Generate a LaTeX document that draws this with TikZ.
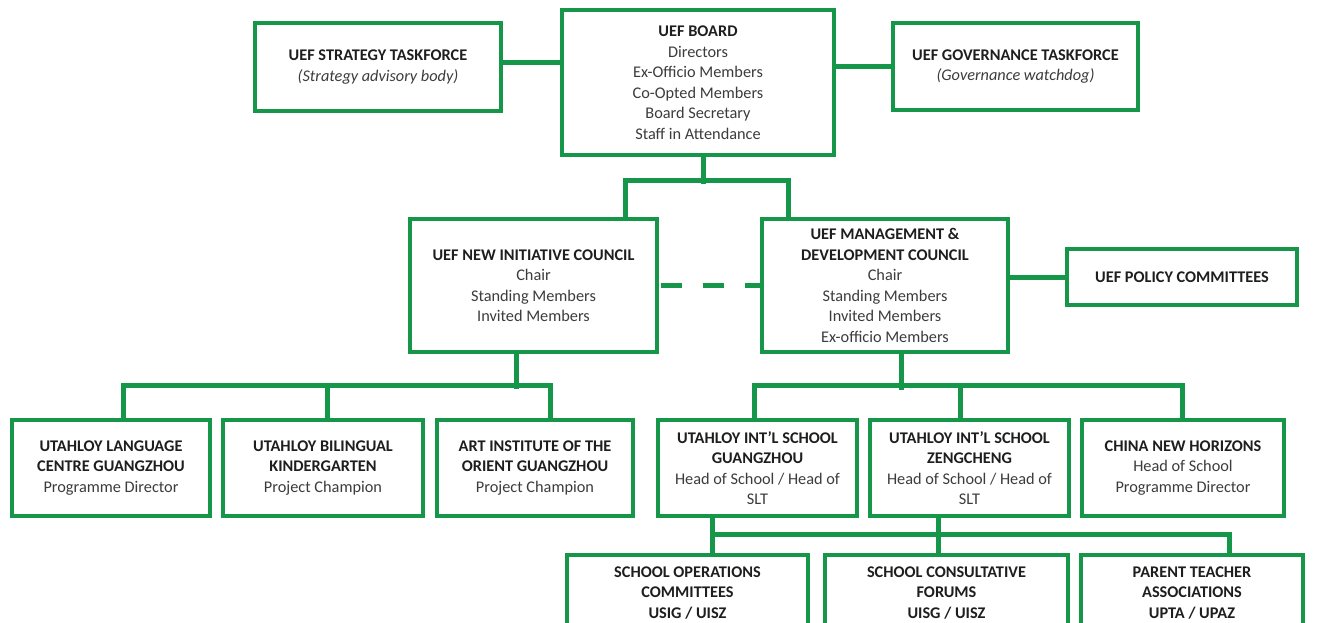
\documentclass[tikz,border=0pt]{standalone}
\usepackage{fontspec}
\setmainfont{Carlito}
\definecolor{uefgreen}{RGB}{22,150,72}
\definecolor{txt}{RGB}{30,30,30}
\definecolor{subtxt}{RGB}{60,60,60}
\tikzset{
  orgbox/.style={draw=uefgreen, line width=3.4pt, fill=white, rectangle, inner sep=2pt,
    align=center, text=txt, font=\fontsize{16.3}{20.5}\selectfont},
  conn/.style={draw=uefgreen, line width=5pt},
  dconn/.style={draw=uefgreen, line width=5pt, dash pattern=on 21pt off 21pt, dash phase=-2pt},
}
\newcommand{\ttl}[1]{\textbf{#1}}
\newcommand{\sbt}[1]{{\color{subtxt}#1}}
\begin{document}
\begin{tikzpicture}[x=1pt,y=-1pt]
\useasboundingbox[fill=white] (0,0) rectangle (1323,623);

% top row
\node[orgbox, minimum width=246, minimum height=88] (strat) at (378,67)
  {\ttl{UEF STRATEGY TASKFORCE}\\\sbt{\itshape(Strategy advisory body)}};
\node[orgbox, minimum width=272, minimum height=145] (board) at (698,82.5)
  {\ttl{UEF BOARD}\\\sbt{Directors}\\\sbt{Ex-Officio Members}\\\sbt{Co-Opted Members}\\\sbt{Board Secretary}\\\sbt{Staff in Attendance}};
\node[orgbox, minimum width=245, minimum height=87] (gov) at (1015.5,66.5)
  {\ttl{UEF GOVERNANCE TASKFORCE}\\\sbt{\itshape(Governance watchdog)}};

% councils
\node[orgbox, minimum width=247, minimum height=133] (nic) at (533.5,285.5)
  {\ttl{UEF NEW INITIATIVE COUNCIL}\\\sbt{Chair}\\\sbt{Standing Members}\\\sbt{Invited Members}};
\node[orgbox, minimum width=246, minimum height=133] (mdc) at (885,285.5)
  {\ttl{UEF MANAGEMENT \&}\\\ttl{DEVELOPMENT COUNCIL}\\\sbt{Chair}\\\sbt{Standing Members}\\\sbt{Invited Members}\\\sbt{Ex-officio Members}};
\node[orgbox, minimum width=230, minimum height=56] (pol) at (1182,277)
  {\ttl{UEF POLICY COMMITTEES}};

% third row
\node[orgbox, minimum width=198, minimum height=96] (lang) at (111,468)
  {\ttl{UTAHLOY LANGUAGE}\\\ttl{CENTRE GUANGZHOU}\\\sbt{Programme Director}};
\node[orgbox, minimum width=200, minimum height=96] (bil) at (323,468)
  {\ttl{UTAHLOY BILINGUAL}\\\ttl{KINDERGARTEN}\\\sbt{Project Champion}};
\node[orgbox, minimum width=196, minimum height=96] (art) at (535,468)
  {\ttl{ART INSTITUTE OF THE}\\\ttl{ORIENT GUANGZHOU}\\\sbt{Project Champion}};
\node[orgbox, minimum width=199, minimum height=96] (gz) at (757.5,468)
  {\ttl{UTAHLOY INT'L SCHOOL}\\\ttl{GUANGZHOU}\\\sbt{Head of School / Head of}\\\sbt{SLT}};
\node[orgbox, minimum width=199, minimum height=96] (zc) at (969.5,468)
  {\ttl{UTAHLOY INT'L SCHOOL}\\\ttl{ZENGCHENG}\\\sbt{Head of School / Head of}\\\sbt{SLT}};
\node[orgbox, minimum width=202, minimum height=96] (cnh) at (1183,468)
  {\ttl{CHINA NEW HORIZONS}\\\sbt{Head of School}\\\sbt{Programme Director}};

% bottom row
\node[orgbox, minimum width=241, minimum height=76] (ops) at (687.5,593)
  {\ttl{SCHOOL OPERATIONS}\\\ttl{COMMITTEES}\\\ttl{USIG / UISZ}};
\node[orgbox, minimum width=243, minimum height=76] (cons) at (946.5,593)
  {\ttl{SCHOOL CONSULTATIVE}\\\ttl{FORUMS}\\\ttl{UISG / UISZ}};
\node[orgbox, minimum width=222, minimum height=76] (pta) at (1192,593)
  {\ttl{PARENT TEACHER}\\\ttl{ASSOCIATIONS}\\\ttl{UPTA / UPAZ}};

% connectors
\draw[conn] ([yshift=4pt]strat.east) -- ([yshift=4pt]strat.east -| board.west);
\draw[conn] (gov.west) -- (gov.west -| board.east);
\draw[conn] ([xshift=5]board.south) -- ++(0,27);
\draw[conn] ([xshift=91.5]nic.north) -- ++(0,-37) -| ([xshift=-97]mdc.north);
\draw[dconn] (nic.east) -- (mdc.west);
\draw[conn] (mdc.east |- pol.west) -- (pol.west);

\draw[conn] ([xshift=-17.5]nic.south) -- ++(0,35);
\draw[conn] ([xshift=12]lang.north) -- ++(0,-33) -| ([xshift=15]art.north);
\draw[conn] ([xshift=4]bil.north) -- ++(0,-33);

\draw[conn] ([xshift=16]mdc.south) -- ++(0,36);
\draw[conn] ([xshift=-3.5]gz.north) -- ++(0,-33) -| ([xshift=-1]cnh.north);
\draw[conn] ([xshift=-9.5]zc.north) -- ++(0,-33);

\draw[conn] ([xshift=-45.5]gz.south) -- ([xshift=24.5]ops.north);
\draw[conn] ([xshift=-31.5]zc.south) -- ([xshift=-8.5]cons.north);
\draw[conn] ([xshift=-45.5]gz.south) ++(0,17) -| ([xshift=37]pta.north);
\end{tikzpicture}
\end{document}
